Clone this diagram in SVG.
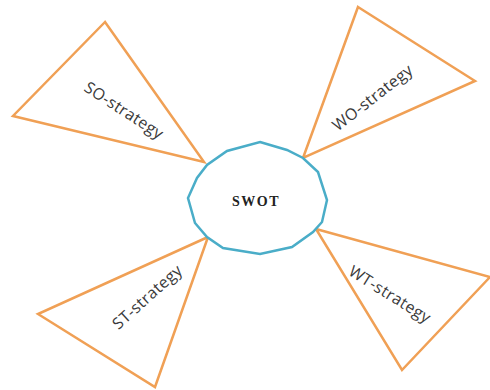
<svg xmlns="http://www.w3.org/2000/svg" width="490" height="390" viewBox="0 0 490 390">
<style>
.tri{fill:#ffffff;stroke:#F0A055;stroke-width:2.5;stroke-linejoin:miter}
.hub{fill:#ffffff;stroke:#4AADC8;stroke-width:2.5}
.lbl{font-family:"Open Sans","Liberation Sans",sans-serif;font-size:16px;fill:#3a3a3a;text-anchor:middle;letter-spacing:0.4px}
.core{font-family:"Liberation Serif",serif;font-size:14px;font-weight:bold;fill:#222;text-anchor:middle;letter-spacing:1.5px}
</style>
<rect width="490" height="390" fill="#ffffff"/>
<g id="connectors"></g>
<g id="so-strategy">
<polygon class="tri" points="105,22 13,116 204,162"/>
<text class="lbl" transform="translate(121,115) rotate(33)">SO-strategy</text>
</g>
<g id="wo-strategy">
<polygon class="tri" points="358,7 475,81 303,158"/>
<text class="lbl" transform="translate(376,102) rotate(-38)">WO-strategy</text>
</g>
<g id="st-strategy">
<polygon class="tri" points="208,237 38,314 155,387"/>
<text class="lbl" transform="translate(151,301) rotate(-42)">ST-strategy</text>
</g>
<g id="wt-strategy">
<polygon class="tri" points="316,229 490,277 402,370"/>
<text class="lbl" transform="translate(387,299) rotate(32)">WT-strategy</text>
</g>
<g id="swot">
<polygon class="hub" points="260,142 287,150 303,158 318,172 327,200 322,222 313,232 292,247 260,254 223,248 207,237 195,223 188,198 197,178 207,165 227,151"/>
<text class="core" x="256" y="206">SWOT</text>
</g>
</svg>
